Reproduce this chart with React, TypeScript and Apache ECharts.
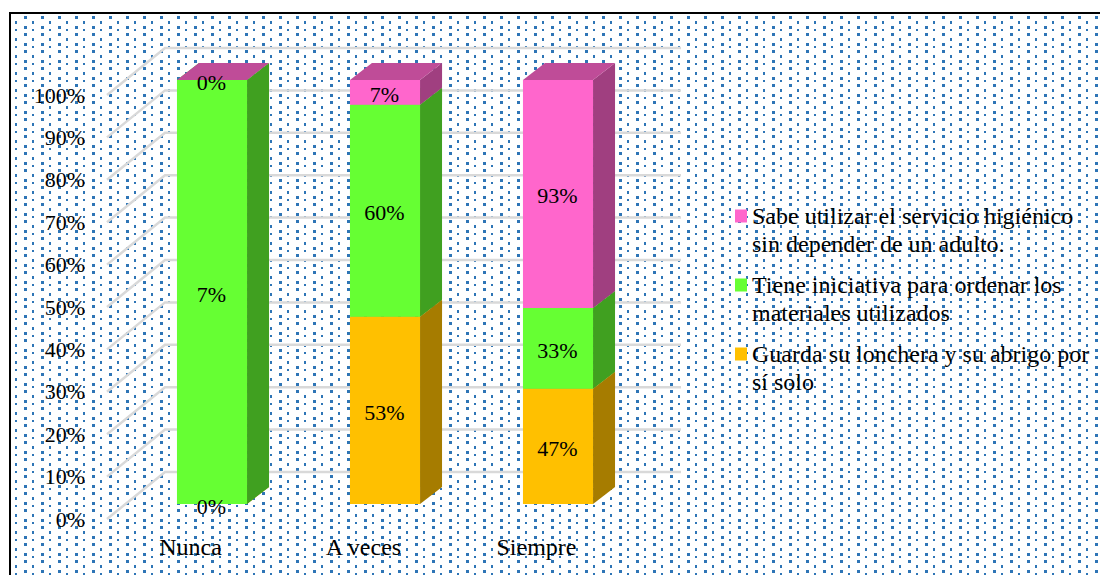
import React, { useEffect, useRef } from "react";
import * as echarts from "echarts";

const categories = ["Nunca", "A veces", "Siempre"];
const ticks = [0, 10, 20, 30, 40, 50, 60, 70, 80, 90, 100];
// Raw percentages printed on the bars; the bars are 100% stacked from them.
const guarda = [0, 53, 47];
const tiene = [7, 60, 33];
const sabe = [0, 7, 93];
const guardaName = ["Guarda su lonchera y su abrigo por", "sí solo"];
const tieneName = ["Tiene iniciativa para ordenar los", "materiales utilizados"];
const sabeName = ["Sabe utilizar el servicio higiénico", "sin depender de un adulto."];

const FONT = "'Liberation Serif', 'Times New Roman', serif";
const FONT_SIZE = 22;
const FONT_SIZE_LARGE = 24;

const tile =
  "data:image/svg+xml," +
  encodeURIComponent(
    `<svg xmlns="http://www.w3.org/2000/svg" width="17" height="17" shape-rendering="crispEdges"><g fill="#2E75B6"><rect x="0" y="0" width="3" height="3"/><rect x="0" y="10" width="3" height="3"/><rect x="8" y="5" width="2" height="3"/><rect x="8" y="13" width="2" height="2"/></g></svg>`
  );

const totals = categories.map((_, i) => guarda[i] + tiene[i] + sabe[i]);
const layers = [guarda, tiene, sabe];
const startOf = (layer: number, i: number) => {
  let s = 0;
  for (let k = 0; k < layer; k++) s += layers[k][i];
  return (s / totals[i]) * 100;
};

const barSeries = (
  layer: number,
  name: string,
  front: string,
  side: string,
  top: string
) => ({
  type: "custom",
  name,
  itemStyle: { color: front },
  clip: false,
  silent: true,
  encode: { x: 0, y: 2 },
  data: categories.map((_, i) => [
    i,
    startOf(layer, i),
    startOf(layer, i) + (layers[layer][i] / totals[i]) * 100,
    layers[layer][i],
  ]),
  renderItem: (_p: any, api: any) => {
    const off = [21.5, -15];
    const depth = [22, -17];
    const w = api.size([1, 0])[0] * 0.405;
    const a = api.coord([api.value(0), api.value(1)]);
    const b = api.coord([api.value(0), api.value(2)]);
    const x0 = a[0] + off[0] - w / 2;
    const x1 = x0 + w;
    const y0 = a[1] + off[1];
    const y1 = b[1] + off[1];
    const poly = (points: number[][], fill: string) => ({
      type: "polygon",
      shape: { points },
      style: { fill },
    });
    return {
      type: "group",
      children: [
        poly(
          [
            [x1, y0],
            [x1 + depth[0], y0 + depth[1]],
            [x1 + depth[0], y1 + depth[1]],
            [x1, y1],
          ],
          side
        ),
        poly(
          [
            [x0, y1],
            [x1, y1],
            [x1 + depth[0], y1 + depth[1]],
            [x0 + depth[0], y1 + depth[1]],
          ],
          top
        ),
        poly(
          [
            [x0, y0],
            [x1, y0],
            [x1, y1],
            [x0, y1],
          ],
          front
        ),
        {
          type: "text",
          z2: 100,
          style: {
            text: `${api.value(3)}%`,
            x: (x0 + x1) / 2 - 0.5,
            y: (y0 + y1) / 2 + 2,
            align: "center",
            verticalAlign: "middle",
            fill: "#000",
            fontFamily: FONT,
            fontSize: FONT_SIZE,
          },
        },
      ],
    };
  },
});

export default function App() {
  const ref = useRef<HTMLDivElement>(null);
  useEffect(() => {
    const chart = echarts.init(ref.current!, undefined, { renderer: "svg" });
    const nameFor: Record<string, string[]> = {};
    [guardaName, tieneName, sabeName].forEach((n) => (nameFor[n.join(" ")] = n));
    chart.setOption({
      animation: false,
      backgroundColor: "transparent",
      grid: { left: 104, top: 95, width: 519, height: 424 },
      xAxis: {
        type: "category",
        data: categories,
        axisLine: { show: false },
        axisTick: { show: false },
        axisLabel: { color: "#000", fontFamily: FONT, fontSize: FONT_SIZE_LARGE, margin: 16 },
      },
      yAxis: {
        type: "value",
        min: 0,
        max: 100,
        interval: 10,
        axisLine: { show: false },
        axisTick: { show: false },
        splitLine: { show: false },
        axisLabel: {
          color: "#000",
          fontFamily: FONT,
          fontSize: FONT_SIZE,
          margin: 19,
          formatter: "{value}%",
        },
      },
      legend: {
        show: true,
        orient: "vertical",
        left: 735,
        top: 174,
        padding: 0,
        itemWidth: 12,
        itemHeight: 13,
        itemGap: -15,
        icon: "rect",
        selectedMode: false,
        data: [sabeName, tieneName, guardaName].map((n) => n.join(" ")),
        // A blank first line centres the first real line on the marker.
        formatter: (name: string) => "\n" + nameFor[name].join("\n"),
        textStyle: {
          color: "#000",
          fontFamily: FONT,
          fontSize: FONT_SIZE_LARGE,
          lineHeight: 28,
        },
      },
      series: [
        {
          type: "custom",
          silent: true,
          clip: false,
          encode: { y: 0 },
          data: ticks.map((t) => [t]),
          renderItem: (p: any, api: any) => {
            const y = api.coord([0, api.value(0)])[1];
            const cs = p.coordSys;
            return {
              type: "polyline",
              shape: {
                points: [
                  [cs.x + 3, y],
                  [cs.x + 61, y - 47],
                  [cs.x + cs.width + 58, y - 47],
                ],
              },
              style: { stroke: "#D9D9D9", lineWidth: 2.5, fill: "none" },
            };
          },
        },
        barSeries(0, guardaName.join(" "), "#FFC000", "#A67C00", "#BF9000"),
        barSeries(1, tieneName.join(" "), "#66FF33", "#40A020", "#4CBF26"),
        barSeries(2, sabeName.join(" "), "#FF66CC", "#A03F80", "#BF4C98"),
      ],
    });
    return () => chart.dispose();
  }, []);
  return (
    <div
      style={{
        position: "absolute",
        left: 0,
        top: 0,
        width: 1100,
        height: 575,
        overflow: "hidden",
        background: "#fff",
      }}
    >
      <div
        style={{
          position: "absolute",
          left: 9,
          top: 12,
          width: 1091,
          height: 563,
          boxSizing: "border-box",
          borderLeft: "2px solid #000",
          borderTop: "2px solid #000",
          backgroundImage: `url("${tile}")`,
          backgroundPosition: "13px 2px",
          backgroundRepeat: "repeat",
        }}
      />
      <div ref={ref} style={{ position: "absolute", left: 0, top: 0, width: 1100, height: 575 }} />
    </div>
  );
}
